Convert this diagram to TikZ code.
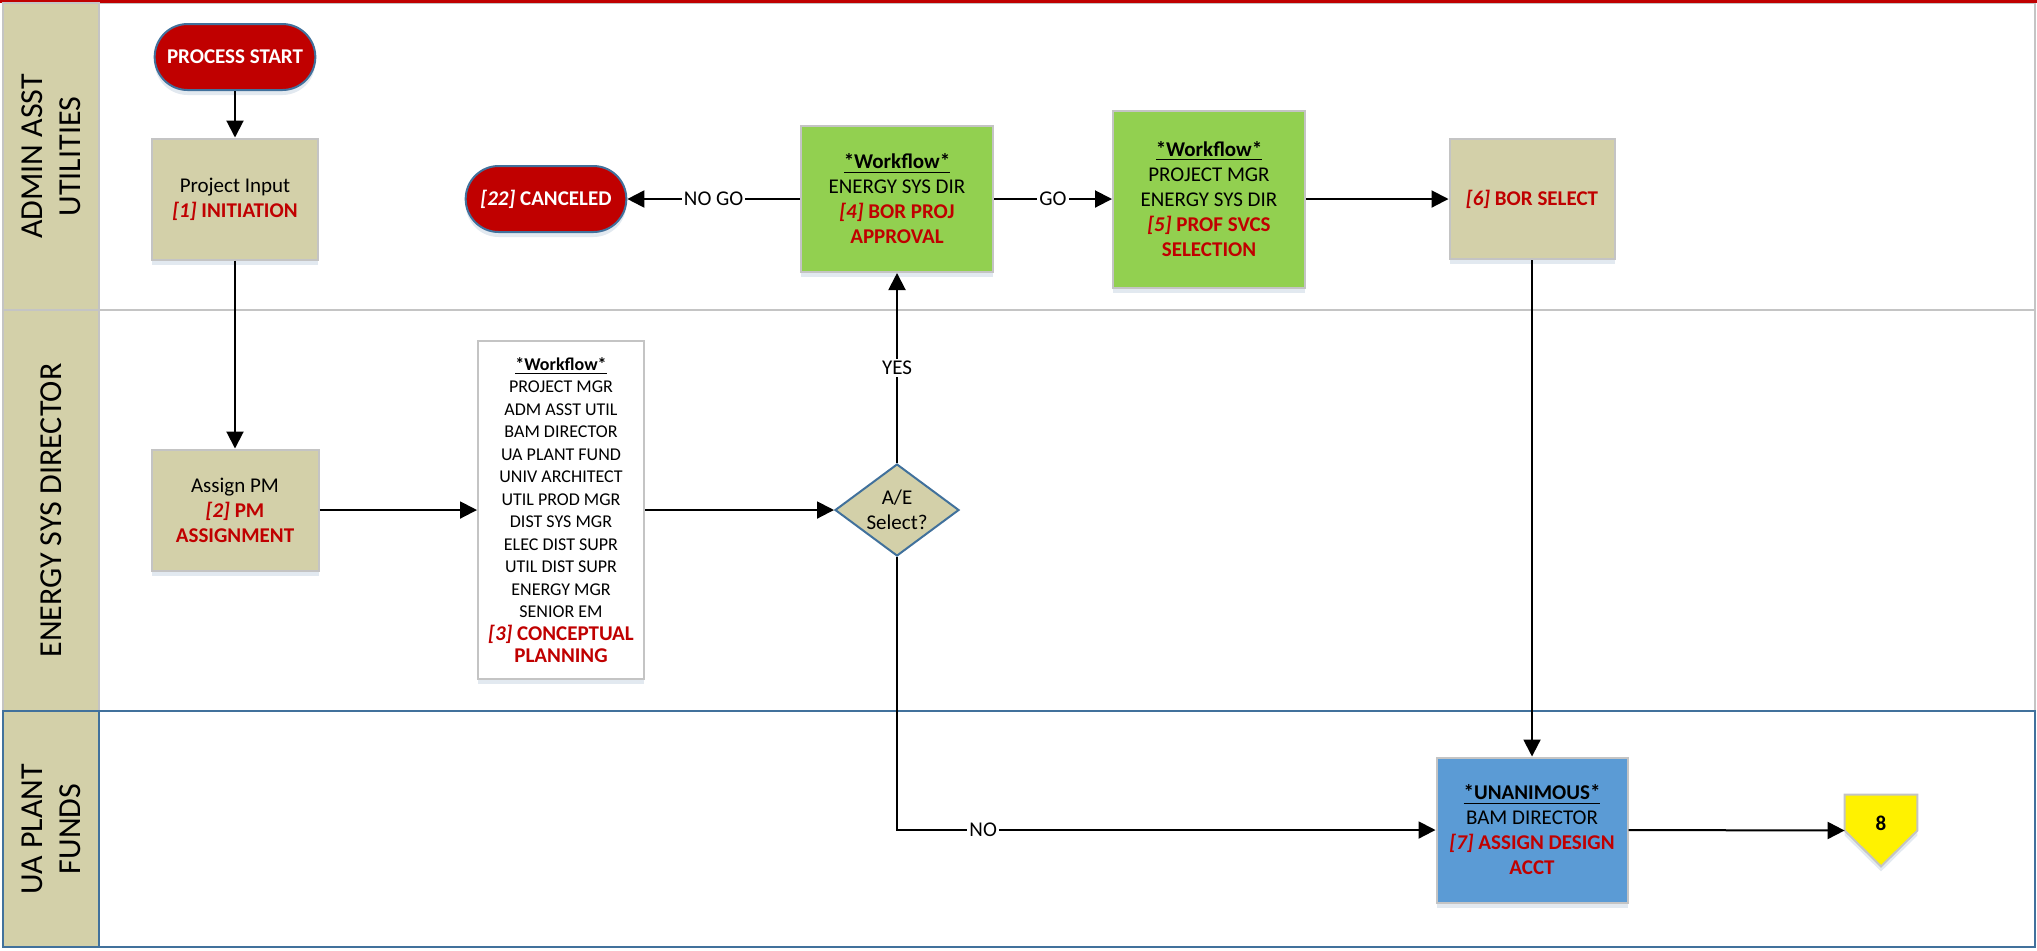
\documentclass[tikz,border=0pt]{standalone}
\usepackage{fontspec}
\setmainfont{Carlito}
\usepackage{tikz}
\usepackage{xcolor}
\usetikzlibrary{shapes.geometric, shapes.misc, arrows, arrows.meta, positioning, calc, shadows, backgrounds}

\definecolor{laneTan}{HTML}{D3D0A9}
\definecolor{stopRed}{HTML}{C00000}
\definecolor{wfGreen}{HTML}{92D050}
\definecolor{fundBlue}{HTML}{5B9BD5}
\definecolor{rimBlue}{HTML}{41719C}
\definecolor{rimGrey}{HTML}{C4C4C4}

\newcommand{\redline}[1]{\textcolor{stopRed}{\bfseries #1}}
\newcommand{\stepnum}[1]{\textit{[#1]}}
\newcommand{\wfhead}[1]{\textbf{\underline{#1}}}

\tikzset{
  laneHead/.style={rectangle, fill=laneTan, draw=rimGrey, line width=1pt, rotate=90, align=center, inner sep=0pt, font=\fontsize{16}{19}\selectfont},
  procbox/.style={rectangle, draw=rimGrey, line width=1pt, align=center, inner sep=2pt, font=\fontsize{10.5}{12.5}\selectfont, drop shadow={shadow xshift=0pt, shadow yshift=-2.5pt, fill=rimBlue!30, opacity=0.5}},
  tanbox/.style={procbox, fill=laneTan},
  greenbox/.style={procbox, fill=wfGreen},
  bluebox/.style={procbox, fill=fundBlue},
  listbox/.style={procbox, fill=white, font=\fontsize{9}{11.25}\selectfont},
  terminal/.style={rounded rectangle, fill=stopRed, draw=rimBlue, line width=1pt, text=white, font=\fontsize{10.5}{12.5}\selectfont\bfseries, minimum width=87pt, minimum height=33pt, drop shadow={shadow xshift=0pt, shadow yshift=-2.5pt, fill=rimBlue!30, opacity=0.5}},
  decision/.style={diamond, aspect=1.35, fill=laneTan, draw=rimBlue, line width=1pt, align=center, inner sep=0pt, minimum width=62pt, minimum height=46pt, font=\fontsize{10.5}{12.5}\selectfont},
  offpage/.style={rectangle, minimum width=36pt, minimum height=35.5pt, inner sep=0pt, text depth=7pt, font=\fontsize{10.5}{12.5}\selectfont\bfseries},
  flow/.style={line width=1pt, -{Triangle[length=8.5pt, width=8.5pt]}},
  elabel/.style={fill=white, inner sep=1pt, font=\fontsize{10.5}{12.5}\selectfont}
}

\begin{document}
\begin{tikzpicture}[x=0.5pt, y=-0.5pt]
\useasboundingbox (0,0) rectangle (2037,950);
% Swim lanes
\foreach \ya/\yb/\rim in {3/310/rimGrey, 310/711/rimGrey, 711/947/rimBlue} {
    \draw[\rim, line width=1pt] (3,\ya) rectangle (2035,\yb);
}
\draw[stopRed, line width=1.5pt] (0,1.5) -- (2037,1.5);
\node[laneHead, minimum width=153.5pt, minimum height=48pt] (laneA) at (51,156.5) {ADMIN ASST\\UTILITIES};
\node[laneHead, minimum width=200.5pt, minimum height=48pt] (laneB) at (51,510.5) {ENERGY SYS DIRECTOR};
\node[laneHead, draw=rimBlue, minimum width=118pt, minimum height=48pt] (laneC) at (51,829) {UA PLANT\\FUNDS};

% Steps
\node[terminal] (start) at (235,57) {PROCESS START};
\node[tanbox, minimum width=83pt, minimum height=60.5pt] (init) at (235,199) {Project Input\\\redline{\stepnum{1} INITIATION}};
\node[terminal] (cancel) at (546,199) {\stepnum{22} CANCELED};
\node[greenbox, minimum width=96pt, minimum height=73pt] (bor4) at (897,199) {\wfhead{*Workflow*}\\ENERGY SYS DIR\\\redline{\stepnum{4} BOR PROJ}\\\redline{APPROVAL}};
\node[greenbox, minimum width=96pt, minimum height=88.5pt] (prof5) at (1209,199) {\wfhead{*Workflow*}\\PROJECT MGR\\ENERGY SYS DIR\\\redline{\stepnum{5} PROF SVCS}\\\redline{SELECTION}};
\node[tanbox, minimum width=82.5pt, minimum height=60pt] (bor6) at (1532,199) {\redline{\stepnum{6} BOR SELECT}};
\node[tanbox, minimum width=83.5pt, minimum height=60.5pt] (assign) at (235,510) {Assign PM\\\redline{\stepnum{2} PM}\\\redline{ASSIGNMENT}};
\node[listbox, minimum width=83pt, minimum height=169pt] (wf3) at (561,510) {\wfhead{*Workflow*}\\PROJECT MGR\\ADM ASST UTIL\\BAM DIRECTOR\\UA PLANT FUND\\UNIV ARCHITECT\\UTIL PROD MGR\\DIST SYS MGR\\ELEC DIST SUPR\\UTIL DIST SUPR\\ENERGY MGR\\SENIOR EM\\\redline{\fontsize{10.5}{12.5}\selectfont\stepnum{3} CONCEPTUAL}\\\redline{\fontsize{10.5}{12.5}\selectfont PLANNING}};
\node[decision] (dec) at (897,510) {A/E\\Select?};
\node[bluebox, minimum width=95.5pt, minimum height=72.5pt] (ua7) at (1532,830) {\wfhead{*UNANIMOUS*}\\BAM DIRECTOR\\\redline{\stepnum{7} ASSIGN DESIGN}\\\redline{ACCT}};
\node[offpage] (p8) at (1881,830.5) {8};
\begin{scope}[on background layer]
\fill[yellow, draw=rimGrey, line width=1pt, drop shadow={shadow xshift=0pt, shadow yshift=-2.5pt, fill=rimBlue!30, opacity=0.5}]
    (p8.north west) -- (p8.north east) -- (p8.east) -- (p8.south) -- (p8.west) -- cycle;
\end{scope}

% Connectors
\draw[flow] (start.south) -- (init.north);
\draw[flow] (init.south) -- (assign.north);
\draw[flow] (assign.east) -- (wf3.west);
\draw[flow] (wf3.east) -- (dec.west);
\draw[flow] (dec.north) -- node[elabel] {YES} (bor4.south);
\draw[flow] (bor4.west) -- node[elabel] {NO GO} (cancel.east);
\draw[flow] (bor4.east) -- node[elabel] {GO} (prof5.west);
\draw[flow] (prof5.east) -- (bor6.west);
\draw[flow] (bor6.south) -- (ua7.north);
\draw[flow] (dec.south) |- node[elabel, pos=0.58] {NO} (ua7.west);
\draw[flow] (ua7.east) -- (p8.west);
\end{tikzpicture}
\end{document}
